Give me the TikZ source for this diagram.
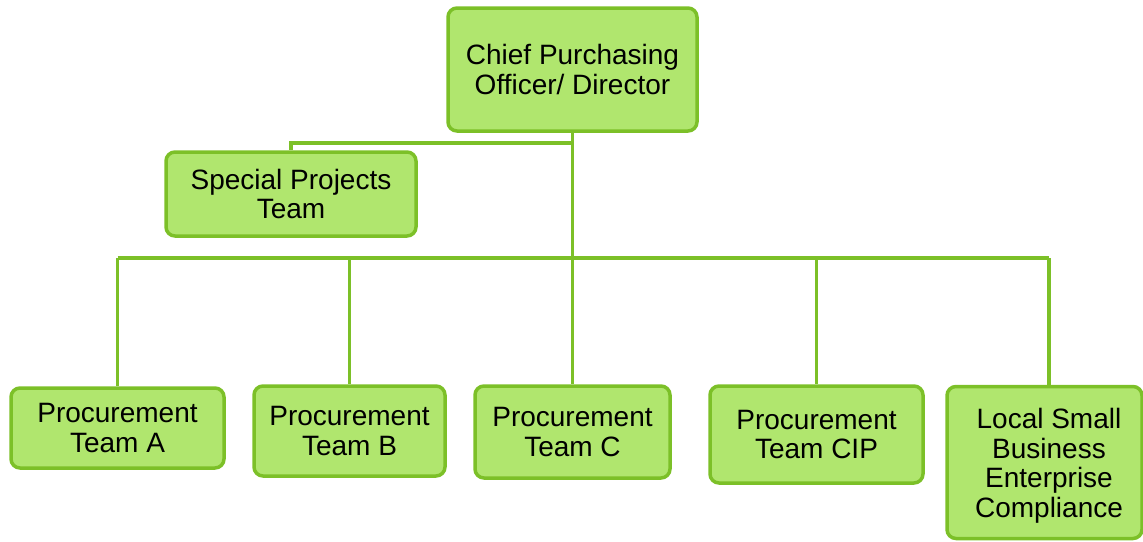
\documentclass[tikz,border=0pt]{standalone}
\usepackage{fontspec}
\setmainfont{Liberation Sans}
\usetikzlibrary{backgrounds}
\definecolor{boxfill}{RGB}{176,230,110}
\definecolor{boxline}{RGB}{124,192,40}
\begin{document}
\begin{tikzpicture}[x=1pt,y=-1pt,
  orgbox/.style={draw=boxline, fill=boxfill, line width=3.5pt, rounded corners=9pt,
    align=center, inner sep=0pt, font=\fontsize{28}{29.5}\selectfont},
  orgtext/.style={align=center, inner sep=0pt, font=\fontsize{28}{29.5}\selectfont},
  link/.style={draw=boxline, line width=3.5pt}]
\useasboundingbox (0,0) rectangle (1143,541);
\node[orgbox, minimum width=249pt, minimum height=123pt] (cpo) at (572.5,69.5) {Chief Purchasing\\Officer/ Director};
\node[orgbox, minimum width=250pt, minimum height=84pt] (spt) at (291,194) {Special Projects\\Team};
\node[orgbox, minimum width=213pt, minimum height=80pt] (pa) at (117.5,428) {Procurement\\Team A};
\node[orgbox, minimum width=191pt, minimum height=90pt] (pb) at (349.5,431) {Procurement\\Team B};
\node[orgbox, minimum width=195pt, minimum height=92pt] (pc) at (572.5,432) {Procurement\\Team C};
\node[orgbox, minimum width=213pt, minimum height=97pt] (pcip) at (816.5,434.5) {Procurement\\Team CIP};
\node[orgbox, minimum width=195pt, minimum height=152pt] (lsb) at (1044.5,462.5) {};
\node[orgtext] (lsbtext) at (1049,466) {Local Small\\Business\\Enterprise\\Compliance};
\coordinate (bus) at (572.5,258);
\coordinate (sj) at (572.5,143);
\coordinate (busL) at (117.5,258);
\coordinate (busR) at (1049,258);
\begin{scope}[on background layer]
\draw[link] (cpo.south) -- (bus);
\draw[link] (sj) -| (spt.north);
\draw[link] (busL) -- (busR);
\draw[link] (busL) -- (pa.north);
\draw[link] (pb.north |- bus) -- (pb.north);
\draw[link] (pc.north |- bus) -- (pc.north);
\draw[link] (pcip.north |- bus) -- (pcip.north);
\draw[link] (busR) -- (busR |- lsb.north);
\end{scope}
\end{tikzpicture}
\end{document}
